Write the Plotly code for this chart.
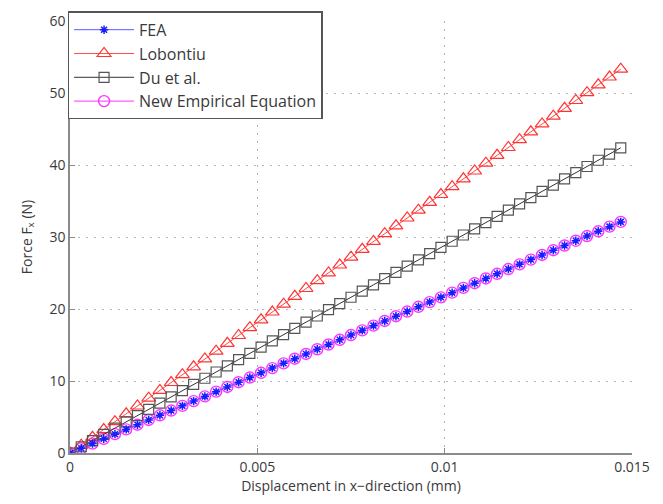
import plotly.graph_objects as go

# Displacement in x-direction (mm)
displacement = [0.0000, 0.0003, 0.0006, 0.0009, 0.0012, 0.0015, 0.0018, 0.0021, 0.0024, 0.0027,
                0.0030, 0.0033, 0.0036, 0.0039, 0.0042, 0.0045, 0.0048, 0.0051, 0.0054, 0.0057,
                0.0060, 0.0063, 0.0066, 0.0069, 0.0072, 0.0075, 0.0078, 0.0081, 0.0084, 0.0087,
                0.0090, 0.0093, 0.0096, 0.0099, 0.0102, 0.0105, 0.0108, 0.0111, 0.0114, 0.0117,
                0.0120, 0.0123, 0.0126, 0.0129, 0.0132, 0.0135, 0.0138, 0.0141, 0.0144, 0.0147]

fea = [0.00, 0.66, 1.31, 1.97, 2.62, 3.28, 3.93, 4.59, 5.24, 5.90,
       6.55, 7.21, 7.86, 8.52, 9.17, 9.83, 10.48, 11.14, 11.79, 12.45,
       13.10, 13.76, 14.41, 15.07, 15.72, 16.38, 17.03, 17.69, 18.34, 19.00,
       19.65, 20.31, 20.96, 21.62, 22.27, 22.93, 23.58, 24.24, 24.89, 25.55,
       26.20, 26.86, 27.51, 28.17, 28.82, 29.48, 30.13, 30.79, 31.44, 32.10]

lobontiu = [0.00, 1.09, 2.18, 3.26, 4.35, 5.44, 6.53, 7.62, 8.70, 9.79,
            10.88, 11.97, 13.06, 14.14, 15.23, 16.32, 17.41, 18.50, 19.58, 20.67,
            21.76, 22.85, 23.94, 25.02, 26.11, 27.20, 28.29, 29.38, 30.46, 31.55,
            32.64, 33.73, 34.82, 35.90, 36.99, 38.08, 39.17, 40.26, 41.34, 42.43,
            43.52, 44.61, 45.70, 46.78, 47.87, 48.96, 50.05, 51.14, 52.22, 53.31]

du_et_al = [0.00, 0.87, 1.73, 2.60, 3.46, 4.33, 5.19, 6.06, 6.92, 7.79,
            8.65, 9.52, 10.38, 11.25, 12.11, 12.98, 13.84, 14.71, 15.57, 16.44,
            17.30, 18.17, 19.03, 19.90, 20.76, 21.63, 22.49, 23.36, 24.22, 25.09,
            25.95, 26.82, 27.68, 28.55, 29.41, 30.28, 31.14, 32.01, 32.87, 33.74,
            34.60, 35.47, 36.33, 37.20, 38.06, 38.93, 39.79, 40.66, 41.52, 42.39]

new_empirical = [0.00, 0.66, 1.31, 1.97, 2.62, 3.28, 3.93, 4.59, 5.24, 5.90,
                 6.55, 7.21, 7.86, 8.52, 9.17, 9.83, 10.48, 11.14, 11.79, 12.45,
                 13.10, 13.76, 14.41, 15.07, 15.72, 16.38, 17.03, 17.69, 18.34, 19.00,
                 19.65, 20.31, 20.96, 21.62, 22.27, 22.93, 23.58, 24.24, 24.89, 25.55,
                 26.20, 26.86, 27.51, 28.17, 28.82, 29.48, 30.13, 30.79, 31.44, 32.10]

x_ticks = [0, 0.005, 0.01, 0.015]
x_tick_labels = ["0", "0.005", "0.01", "0.015"]
y_ticks = [0, 10, 20, 30, 40, 50, 60]

FONT = "Open Sans, sans-serif"
TXT = "#3a3a3a"

fig = go.Figure()

fig.add_trace(go.Scatter(
    x=displacement, y=new_empirical, name="New Empirical Equation", mode="lines+markers",
    line=dict(color="#ff33ff", width=1),
    marker=dict(symbol="circle-open", size=11, color="#ff33ff", line=dict(width=1.4)),
    legendrank=4))
fig.add_trace(go.Scatter(
    x=displacement, y=lobontiu, name="Lobontiu", mode="lines+markers",
    line=dict(color="#ff4d4d", width=1),
    marker=dict(symbol="triangle-up-open", size=12, color="#ff3333", line=dict(width=1.2)),
    legendrank=2))
fig.add_trace(go.Scatter(
    x=displacement, y=du_et_al, name="Du et al.", mode="lines+markers",
    line=dict(color="#333333", width=1),
    marker=dict(symbol="square-open", size=10, color="#555555", line=dict(width=1.2)),
    legendrank=3))
fig.add_trace(go.Scatter(
    x=displacement, y=fea, name="FEA", mode="lines+markers",
    line=dict(color="#5a5aff", width=1),
    marker=dict(symbol="asterisk-open", size=7, color="#1a1aff", line=dict(width=1.5)),
    legendrank=1))

axis_common = dict(
    showline=True, linecolor="#8a8a8a", linewidth=1.5,
    ticks="inside", ticklen=5, tickcolor="#8a8a8a", tickwidth=1,
    showgrid=True, gridcolor="#b5b5b5", griddash="2px,6px", gridwidth=1,
    zeroline=False, mirror=False,
    tickfont=dict(family=FONT, size=14, color=TXT),
)

fig.update_xaxes(range=[0, 0.015], tickvals=x_ticks, ticktext=x_tick_labels,
                 title=dict(text="Displacement in x\u2212direction (mm)",
                            font=dict(family=FONT, size=14, color=TXT),
                            standoff=4),
                 **axis_common)
fig.update_yaxes(range=[0, 60], tickvals=y_ticks, ticklabelstandoff=0,
                 title=dict(text="Force F<sub>x</sub> (N)",
                            font=dict(family=FONT, size=14, color=TXT),
                            standoff=14),
                 **axis_common)

fig.update_layout(
    width=663, height=504,
    margin=dict(l=70, r=31, t=14, b=51),
    paper_bgcolor="white", plot_bgcolor="white",
    showlegend=True,
    legend=dict(x=-0.004, y=1.022, xanchor="left", yanchor="top",
                bgcolor="white", bordercolor="#555555", borderwidth=1.3,
                font=dict(family=FONT, size=16, color=TXT),
                itemwidth=60, tracegroupgap=0),
)

fig.write_html("out.html")
